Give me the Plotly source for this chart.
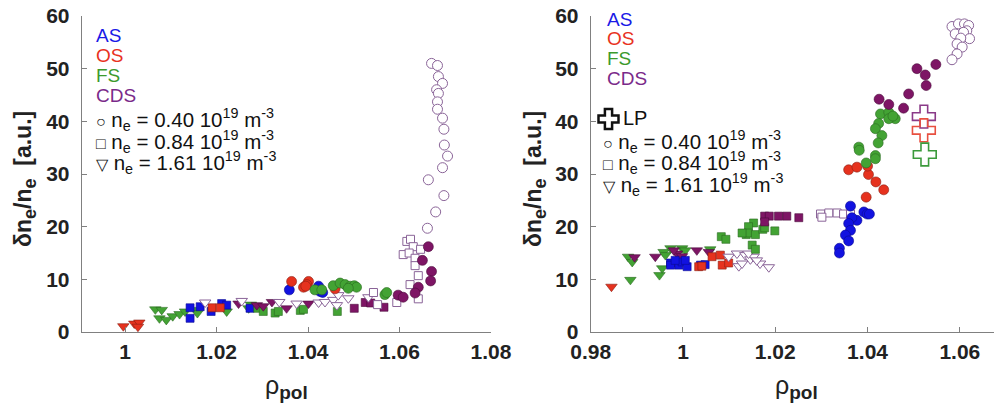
import plotly.graph_objects as go

# ---------------- LEFT PANEL DATA ----------------
L_AS_circ_x = [1.0359, 1.0423, 1.0426, 1.0432]
L_AS_circ_y = [8.0, 8.7, 7.7, 7.5]
L_OS_circ_x = [1.0364, 1.0390, 1.0401, 1.0397, 1.0395, 1.0459]
L_OS_circ_y = [9.6, 8.5, 9.6, 9.0, 8.7, 8.2]
L_FS_circ_x = [1.0415, 1.0430, 1.0455, 1.0470, 1.0481, 1.0492, 1.0501, 1.0506, 1.0488, 1.0568, 1.0572]
L_FS_circ_y = [8.0, 8.0, 8.8, 9.3, 9.0, 8.7, 8.8, 8.5, 8.3, 7.1, 7.5]
L_CDS_circ_x = [1.0663, 1.0650, 1.0670, 1.0668, 1.0641, 1.0634, 1.0597, 1.0608]
L_CDS_circ_y = [16.2, 13.6, 11.5, 9.7, 8.5, 7.4, 7.0, 6.6]
L_CDSo_circ_x = [1.0670, 1.0683, 1.0685, 1.0694, 1.0681, 1.0685, 1.0683, 1.0683, 1.0694, 1.0697,
                 1.0698, 1.0705, 1.0694, 1.0663, 1.0697, 1.0679, 1.0661]
L_CDSo_circ_y = [51.0, 50.6, 48.5, 47.2, 46.0, 45.3, 43.7, 42.3, 40.6, 38.5,
                 35.5, 33.4, 31.2, 28.9, 25.9, 22.8, 19.7]
L_AS_sq_x = [1.0142, 1.0142, 1.0164, 1.0188, 1.0211, 1.0222, 1.0273]
L_AS_sq_y = [4.6, 2.6, 4.8, 3.9, 5.4, 5.1, 4.5]
L_OS_sq_x = [1.0190, 1.0208]
L_OS_sq_y = [4.6, 4.6]
L_FS_sq_x = [1.0290, 1.0302, 1.0328, 1.0335, 1.0383, 1.0390, 1.0464]
L_FS_sq_y = [4.5, 3.9, 3.6, 3.9, 4.1, 4.3, 3.9]
L_CDS_sq_x = [1.0501, 1.0525, 1.0537, 1.0566]
L_CDS_sq_y = [4.5, 5.6, 5.5, 4.7]
L_CDSo_sq_x = [1.0616, 1.0624, 1.0630, 1.0646, 1.0608, 1.0621, 1.0634, 1.0634, 1.0641, 1.0623,
               1.0641, 1.0594, 1.0543, 1.0552]
L_CDSo_sq_y = [17.2, 17.6, 16.2, 15.7, 14.7, 15.0, 14.0, 12.6, 10.7, 9.0,
               6.3, 5.6, 7.5, 5.2]
L_OS_tri_x = [0.9996, 1.0020, 1.0031, 1.0028]
L_OS_tri_y = [1.1, 1.6, 1.8, 1.0]
L_FS_tri_x = [1.0066, 1.0080, 1.0075, 1.0090, 1.0104, 1.0119, 1.0131, 1.0155, 1.0158, 1.0222, 1.0270, 1.0275]
L_FS_tri_y = [4.3, 4.2, 2.6, 2.3, 3.0, 3.4, 3.9, 4.2, 3.6, 3.9, 4.5, 5.2]
L_CDS_tri_x = [1.0248, 1.0288, 1.0302, 1.0321, 1.0353, 1.0401]
L_CDS_tri_y = [5.4, 5.1, 4.9, 5.7, 4.5, 5.4]
L_CDSo_tri_x = [1.0175, 1.0255, 1.0337, 1.0375, 1.0423, 1.0437, 1.0455, 1.0466, 1.0488, 1.0532, 1.0463]
L_CDSo_tri_y = [5.6, 5.9, 5.7, 5.4, 5.6, 5.7, 6.1, 7.0, 6.4, 6.6, 5.1]

# ---------------- RIGHT PANEL DATA ----------------
R_AS_circ_x = [1.0363, 1.0392, 1.0399, 1.0404, 1.0377, 1.0366, 1.0359, 1.0363, 1.0352, 1.0359, 1.0339, 1.0339]
R_AS_circ_y = [23.9, 22.8, 22.4, 22.4, 21.2, 21.7, 20.6, 19.3, 18.4, 17.3, 15.9, 15.0]
R_OS_circ_x = [1.0359, 1.0377, 1.0402, 1.0400, 1.0418, 1.0435, 1.0397]
R_OS_circ_y = [30.8, 31.3, 29.9, 31.5, 28.5, 27.0, 25.6]
R_FS_circ_x = [1.0428, 1.0446, 1.0460, 1.0446, 1.0424, 1.0417, 1.0431, 1.0423, 1.0381, 1.0382,
               1.0417, 1.0417, 1.0397, 1.0455]
R_FS_circ_y = [41.4, 41.7, 40.5, 40.5, 39.6, 38.6, 37.3, 35.9, 35.1, 34.5,
               33.5, 32.9, 32.1, 41.0]
R_CDS_circ_x = [1.0548, 1.0507, 1.0525, 1.0527, 1.0489, 1.0478, 1.0425, 1.0446]
R_CDS_circ_y = [50.8, 50.0, 48.8, 46.8, 45.2, 42.5, 44.2, 43.2]
R_CDSo_circ_x = [1.0583, 1.0597, 1.0610, 1.0619, 1.0615, 1.0590, 1.0608, 1.0621, 1.0602, 1.0594,
                 1.0605, 1.0594, 1.0583]
R_CDSo_circ_y = [58.0, 58.5, 58.5, 58.2, 57.2, 56.6, 56.9, 55.7, 55.8, 54.7,
                 54.1, 52.8, 51.7]
R_AS_sq_x = [0.9973, 0.9973, 0.9991, 0.9998, 1.0009, 1.0005, 1.0038, 1.0048, 0.9983]
R_AS_sq_y = [13.1, 12.7, 12.7, 13.3, 12.4, 13.6, 12.7, 12.8, 13.6]
R_OS_sq_x = [1.0063, 1.0081, 1.0085, 1.0099, 1.0034, 1.0041]
R_OS_sq_y = [14.3, 14.6, 12.7, 13.1, 12.4, 12.5]
R_FS_sq_x = [1.0083, 1.0093, 1.0137, 1.0153, 1.0142, 1.0141, 1.0157, 1.0173, 1.0177, 1.0199,
             1.0150, 1.0157, 1.0128]
R_FS_sq_y = [18.1, 17.6, 18.5, 20.7, 20.0, 18.8, 18.5, 19.5, 19.8, 19.2,
             16.5, 15.7, 18.8]
R_CDS_sq_x = [1.0177, 1.0187, 1.0207, 1.0225, 1.0251, 1.0177]
R_CDS_sq_y = [22.0, 22.0, 22.0, 22.0, 21.7, 20.9]
R_CDSo_sq_x = [1.0298, 1.0316, 1.0334, 1.0348, 1.0301, 1.0363]
R_CDSo_sq_y = [22.4, 22.6, 22.6, 22.4, 21.8, 22.4]
R_OS_tri_x = [0.9845]
R_OS_tri_y = [8.6]
R_FS_tri_x = [0.9881, 0.9890, 0.9886, 0.9949, 0.9955, 0.9958, 0.9973, 0.9998, 1.0005, 1.0059, 0.9962]
R_FS_tri_y = [14.3, 13.3, 9.9, 10.8, 12.1, 15.2, 15.9, 15.9, 15.5, 15.7, 14.6]
R_CDS_tri_x = [0.9895, 0.9940, 0.9987, 0.9998, 1.0030, 1.0056, 0.9980]
R_CDS_tri_y = [14.2, 14.3, 14.9, 14.4, 15.5, 15.2, 15.5]
R_CDSo_tri_x = [1.0099, 1.0117, 1.0121, 1.0135, 1.0128, 1.0146, 1.0153, 1.0167, 1.0186, 1.0160, 1.0142]
R_CDSo_tri_y = [14.3, 14.9, 12.5, 14.6, 13.0, 13.8, 14.3, 13.0, 12.3, 13.6, 14.9]
R_LP_x = [1.0522, 1.0522, 1.0524]
R_LP_y = [40.9, 38.3, 33.7]
R_LP_group = ["CDS", "OS", "FS"]

groups = ["AS", "OS", "FS", "CDS"]
densities = ["n<sub>e</sub> = 0.40 10<sup>19</sup> m<sup>-3</sup>",
             "n<sub>e</sub> = 0.84 10<sup>19</sup> m<sup>-3</sup>",
             "n<sub>e</sub> = 1.61 10<sup>19</sup> m<sup>-3</sup>"]
L_xticks = [1.0, 1.02, 1.04, 1.06, 1.08]
L_xtext = ["1", "1.02", "1.04", "1.06", "1.08"]
R_xticks = [0.98, 1.0, 1.02, 1.04, 1.06]
R_xtext = ["0.98", "1", "1.02", "1.04", "1.06"]
yticks = [0, 10, 20, 30, 40, 50, 60]

# ---------------- STYLE ----------------
FILL = {"AS": "#1212e0", "OS": "#e6321e", "FS": "#43a334", "CDS": "#7e1565"}
EDGE = {"AS": "#0a0a90", "OS": "#8a1e12", "FS": "#2a6a20", "CDS": "#4a0a3a"}
TEXTC = {"AS": "#1a1ae6", "OS": "#e8321e", "FS": "#3c9a2c", "CDS": "#7a2a8a"}
OPEN_EDGE = "#8a6498"
FONT = "Liberation Sans, Arial, sans-serif"
W, H = 994, 403
SYM = {"circ": "circle", "sq": "square", "tri": "triangle-down"}
SIZE = {"circ": 10, "sq": 8, "tri": 10}

fig = go.Figure()


def add(xs, ys, grp, shape, panel, open_=False):
    xa, ya = ("x", "y") if panel == "L" else ("x2", "y2")
    if open_:
        marker = dict(symbol=SYM[shape], size=SIZE[shape], color="white",
                      line=dict(color=OPEN_EDGE, width=1))
    else:
        marker = dict(symbol=SYM[shape], size=SIZE[shape], color=FILL[grp],
                      line=dict(color=EDGE[grp], width=0.6))
    fig.add_trace(go.Scatter(x=xs, y=ys, mode="markers", marker=marker, cliponaxis=False,
                             xaxis=xa, yaxis=ya, showlegend=False, hoverinfo="skip"))


# left panel
add(L_OS_tri_x, L_OS_tri_y, "OS", "tri", "L")
add(L_FS_tri_x, L_FS_tri_y, "FS", "tri", "L")
add(L_AS_sq_x, L_AS_sq_y, "AS", "sq", "L")
add(L_OS_sq_x, L_OS_sq_y, "OS", "sq", "L")
add(L_FS_sq_x, L_FS_sq_y, "FS", "sq", "L")
add(L_CDS_sq_x, L_CDS_sq_y, "CDS", "sq", "L")
add(L_CDS_tri_x, L_CDS_tri_y, "CDS", "tri", "L")
add(L_CDSo_tri_x, L_CDSo_tri_y, "CDS", "tri", "L", True)
add(L_AS_circ_x, L_AS_circ_y, "AS", "circ", "L")
add(L_OS_circ_x, L_OS_circ_y, "OS", "circ", "L")
add(L_FS_circ_x, L_FS_circ_y, "FS", "circ", "L")
add(L_CDSo_sq_x, L_CDSo_sq_y, "CDS", "sq", "L", True)
add(L_CDS_circ_x, L_CDS_circ_y, "CDS", "circ", "L")
add(L_CDSo_circ_x, L_CDSo_circ_y, "CDS", "circ", "L", True)

# right panel
add(R_OS_tri_x, R_OS_tri_y, "OS", "tri", "R")
add(R_FS_tri_x, R_FS_tri_y, "FS", "tri", "R")
add(R_CDS_tri_x, R_CDS_tri_y, "CDS", "tri", "R")
add(R_AS_sq_x, R_AS_sq_y, "AS", "sq", "R")
add(R_OS_sq_x, R_OS_sq_y, "OS", "sq", "R")
add(R_CDSo_tri_x, R_CDSo_tri_y, "CDS", "tri", "R", True)
add(R_FS_sq_x, R_FS_sq_y, "FS", "sq", "R")
add(R_CDS_sq_x, R_CDS_sq_y, "CDS", "sq", "R")
add(R_CDSo_sq_x, R_CDSo_sq_y, "CDS", "sq", "R", True)
add(R_AS_circ_x, R_AS_circ_y, "AS", "circ", "R")
add(R_OS_circ_x, R_OS_circ_y, "OS", "circ", "R")
add(R_FS_circ_x, R_FS_circ_y, "FS", "circ", "R")
add(R_CDS_circ_x, R_CDS_circ_y, "CDS", "circ", "R")
add(R_CDSo_circ_x, R_CDSo_circ_y, "CDS", "circ", "R", True)
LP_COL = {"CDS": "#8a3a88", "OS": "#e85040", "FS": "#3c9a3c"}
fig.add_trace(go.Scatter(x=R_LP_x, y=R_LP_y, mode="markers", xaxis="x2", yaxis="y2",
                         marker=dict(symbol="cross-open", size=19,
                                     color=[LP_COL[g] for g in R_LP_group],
                                     line=dict(width=1.6, color=[LP_COL[g] for g in R_LP_group])),
                         showlegend=False, hoverinfo="skip"))


def px(x):
    return x / W


def py(y):
    return 1 - y / H


# plot areas in pixels
L_left, L_right = 81.7, 491.0
R_left, R_right = 590.7, 994.0
P_top, P_bot = 16.0, 332.0

axis_common = dict(showline=True, linecolor="#808080", linewidth=1, ticks="inside",
                   ticklen=5, tickcolor="#808080", showgrid=False, zeroline=False,
                   automargin=False,
                   tickfont=dict(family=FONT, size=21, color="#222222", weight="bold"))

fig.update_layout(
    width=W, height=H, margin=dict(l=0, r=0, t=0, b=0, pad=0), autosize=False,
    paper_bgcolor="white", plot_bgcolor="white",
    xaxis=dict(domain=[px(L_left), px(L_right)], range=[0.9905, 1.08], anchor="y",
               tickvals=L_xticks, ticktext=L_xtext, ticklabelstandoff=1, **axis_common),
    yaxis=dict(domain=[py(P_bot), py(P_top)], range=[0, 60], anchor="x",
               tickvals=yticks, ticklabelstandoff=7, **axis_common),
    xaxis2=dict(domain=[px(R_left), px(R_right)], range=[0.98, 1.0674], anchor="y2",
                tickvals=R_xticks, ticktext=R_xtext, ticklabelstandoff=1, **axis_common),
    yaxis2=dict(domain=[py(P_bot), py(P_top)], range=[0, 60], anchor="x2",
                tickvals=yticks, ticklabelstandoff=7, **axis_common),
)

ann = []


def text(x, y, s, color="#111111", size=19, xanchor="left", bold=False, angle=0):
    f = dict(family=FONT, size=size, color=color)
    if bold:
        f["weight"] = "bold"
    ann.append(dict(x=px(x), y=py(y), xref="paper", yref="paper", text=s, showarrow=False,
                    xanchor=xanchor, yanchor="middle", font=f, textangle=angle))


# group labels
for i, g in enumerate(groups):
    text(94, 36 + 19.7 * i, g, TEXTC[g])
    text(605, 19 + 19.7 * i, g, TEXTC[g])

SYMTXT = ["○", "□", "▽"]
for i, d in enumerate(densities):
    s = "<span style='font-size:16px'>" + SYMTXT[i] + "</span> " + d
    text(94, 120 + 21 * i, s, size=20.5)
    text(601, 141 + 21.5 * i, s, size=20.5)

# LP legend
text(621, 118, "LP", size=20)
cx, cy, h, a = 608.5, 119, 10, 3.6
pts = [(cx - a, cy - h), (cx + a, cy - h), (cx + a, cy - a), (cx + h, cy - a), (cx + h, cy + a),
       (cx + a, cy + a), (cx + a, cy + h), (cx - a, cy + h), (cx - a, cy + a), (cx - h, cy + a),
       (cx - h, cy - a), (cx - a, cy - a)]
path = "M " + " L ".join(f"{px(x):.5f},{py(y):.5f}" for x, y in pts) + " Z"
fig.add_shape(type="path", path=path, xref="paper", yref="paper",
              line=dict(color="#111111", width=2.5), fillcolor="rgba(0,0,0,0)")

# axis titles
SUBE = "<sub><span style='font-size:18px'>e</span></sub>"
ytitle = "δn" + SUBE + "/n" + SUBE + "&nbsp;&nbsp;[a.u.]"
text(25, 179, ytitle, "#222222", 23, "center", True, -90)
text(535, 179, ytitle, "#222222", 23, "center", True, -90)
xtitle = "<span style='font-weight:normal'>ρ</span><sub><span style='font-size:19px'>pol</span></sub>"
text(286, 387, xtitle, "#222222", 25, "center", True)
text(796, 387, xtitle, "#222222", 25, "center", True)

fig.update_layout(annotations=ann)
fig.write_html("out.html")
